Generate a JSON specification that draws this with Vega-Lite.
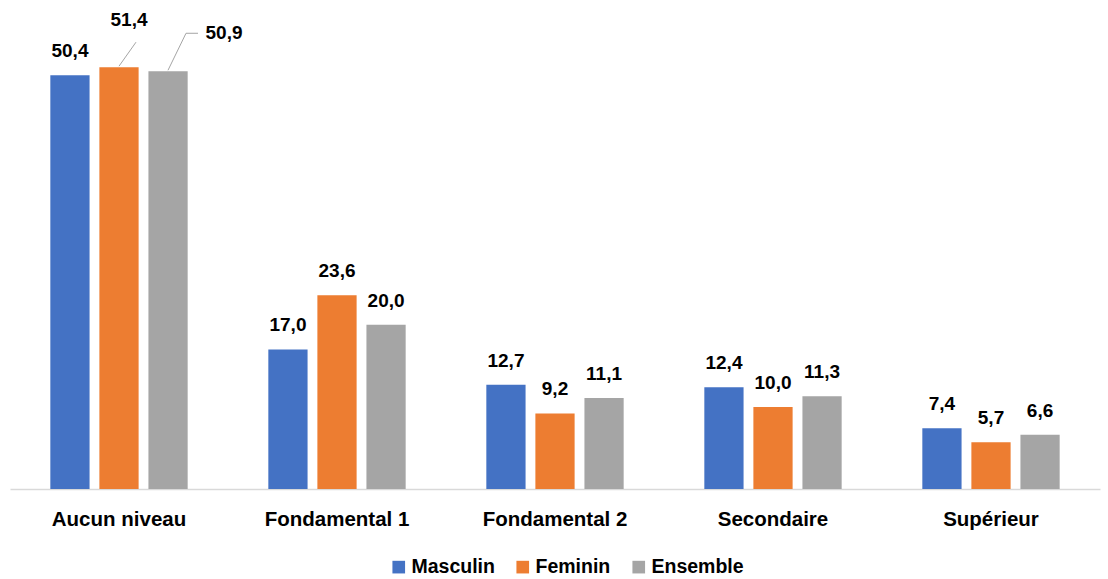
{
  "$schema": "https://vega.github.io/schema/vega-lite/v6.json",
  "width": 1090,
  "height": 476,
  "autosize": {"type": "none"},
  "padding": {"top": 13, "left": 10, "right": 8, "bottom": 90},
  "background": "white",
  "config": {
    "view": {"stroke": null},
    "font": "Liberation Sans",
    "locale": {"number": {"decimal": ",", "thousands": " ", "grouping": [3], "currency": ["", " €"]}}
  },
  "data": {
    "values": [
      {"niveau": "Aucun niveau", "sexe": "Masculin", "valeur": 50.4},
      {"niveau": "Aucun niveau", "sexe": "Feminin", "valeur": 51.4},
      {"niveau": "Aucun niveau", "sexe": "Ensemble", "valeur": 50.9},
      {"niveau": "Fondamental 1", "sexe": "Masculin", "valeur": 17.0},
      {"niveau": "Fondamental 1", "sexe": "Feminin", "valeur": 23.6},
      {"niveau": "Fondamental 1", "sexe": "Ensemble", "valeur": 20.0},
      {"niveau": "Fondamental 2", "sexe": "Masculin", "valeur": 12.7},
      {"niveau": "Fondamental 2", "sexe": "Feminin", "valeur": 9.2},
      {"niveau": "Fondamental 2", "sexe": "Ensemble", "valeur": 11.1},
      {"niveau": "Secondaire", "sexe": "Masculin", "valeur": 12.4},
      {"niveau": "Secondaire", "sexe": "Feminin", "valeur": 10.0},
      {"niveau": "Secondaire", "sexe": "Ensemble", "valeur": 11.3},
      {"niveau": "Supérieur", "sexe": "Masculin", "valeur": 7.4},
      {"niveau": "Supérieur", "sexe": "Feminin", "valeur": 5.7},
      {"niveau": "Supérieur", "sexe": "Ensemble", "valeur": 6.6}
    ]
  },
  "encoding": {
    "x": {
      "field": "niveau", "type": "nominal", "sort": null,
      "scale": {"paddingInner": 0.37, "paddingOuter": 0.185},
      "axis": {"title": null, "labelAngle": 0, "ticks": false, "domainColor": "#d9d9d9", "domainWidth": 1.5,
               "labelFont": "Liberation Sans", "labelFontWeight": "bold", "labelFontSize": 20.5, "labelColor": "#000000", "labelPadding": 20}
    },
    "y": {"field": "valeur", "type": "quantitative", "scale": {"domain": [0, 58]}, "axis": null}
  },
  "layer": [
    {
      "mark": {"type": "bar"},
      "encoding": {
        "xOffset": {"field": "sexe", "type": "nominal", "sort": ["Masculin", "Feminin", "Ensemble"], "scale": {"paddingInner": 0.2, "paddingOuter": 0}},
        "color": {
          "field": "sexe", "type": "nominal",
          "scale": {"domain": ["Masculin", "Feminin", "Ensemble"], "range": ["#4472C4", "#ED7D31", "#A5A5A5"]},
          "legend": {"title": null, "orient": "none", "legendX": 379, "legendY": 544, "direction": "horizontal", "symbolType": "square", "symbolSize": 160,
                     "symbolStrokeWidth": 0, "labelFont": "Liberation Sans", "labelFontWeight": "bold", "labelFontSize": 19.5, "labelColor": "#000000",
                     "columnPadding": 18, "labelOffset": 3}
        }
      }
    },
    {
      "transform": [{"filter": "datum.niveau !== 'Aucun niveau' || datum.sexe === 'Masculin'"}],
      "mark": {"type": "text", "baseline": "middle", "dy": -24, "fontSize": 19, "fontWeight": "bold", "font": "Liberation Sans", "color": "#000000"},
      "encoding": {
        "xOffset": {"field": "sexe", "type": "nominal", "sort": ["Masculin", "Feminin", "Ensemble"], "scale": {"paddingInner": 0.2, "paddingOuter": 0}},
        "text": {"field": "valeur", "type": "quantitative", "format": ".1f"}
      }
    },
    {
      "transform": [{"filter": "datum.niveau === 'Aucun niveau' && datum.sexe === 'Feminin'"}],
      "mark": {"type": "text", "baseline": "middle", "dx": 10, "dy": -47, "fontSize": 19, "fontWeight": "bold", "font": "Liberation Sans", "color": "#000000"},
      "encoding": {"text": {"field": "valeur", "type": "quantitative", "format": ".1f"}}
    },
    {
      "transform": [{"filter": "datum.niveau === 'Aucun niveau' && datum.sexe === 'Ensemble'"}],
      "mark": {"type": "text", "baseline": "middle", "dx": 105, "dy": -38, "fontSize": 19, "fontWeight": "bold", "font": "Liberation Sans", "color": "#000000"},
      "encoding": {"text": {"field": "valeur", "type": "quantitative", "format": ".1f"}}
    },
    {
      "transform": [{"filter": "datum.niveau === 'Aucun niveau' && datum.sexe === 'Feminin'"}],
      "mark": {"type": "rule", "color": "#A5A5A5", "strokeWidth": 1, "xOffset": 0, "x2Offset": 17, "yOffset": -1, "y2Offset": -25},
      "encoding": {"x2": {"field": "niveau"}, "y2": {"field": "valeur"}}
    },
    {
      "transform": [{"filter": "datum.niveau === 'Aucun niveau' && datum.sexe === 'Ensemble'"}],
      "mark": {"type": "rule", "color": "#A5A5A5", "strokeWidth": 1, "xOffset": 49, "x2Offset": 67, "yOffset": -1, "y2Offset": -38},
      "encoding": {"x2": {"field": "niveau"}, "y2": {"field": "valeur"}}
    },
    {
      "transform": [{"filter": "datum.niveau === 'Aucun niveau' && datum.sexe === 'Ensemble'"}],
      "mark": {"type": "rule", "color": "#A5A5A5", "strokeWidth": 1, "xOffset": 67, "x2Offset": 79, "yOffset": -38, "y2Offset": -38},
      "encoding": {"x2": {"field": "niveau"}, "y2": {"field": "valeur"}}
    }
  ]
}
